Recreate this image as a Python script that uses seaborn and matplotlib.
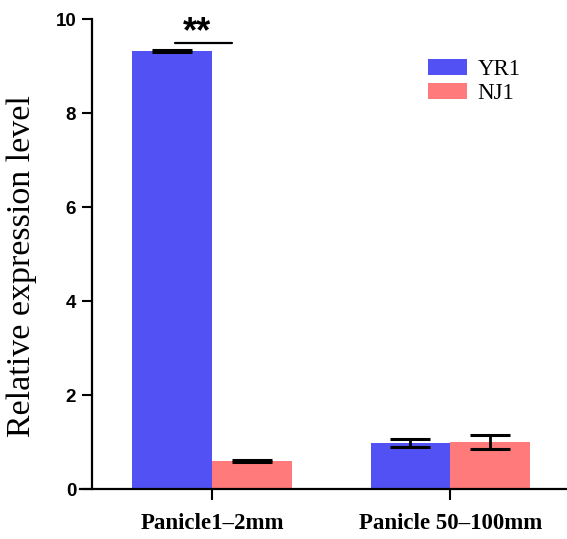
import matplotlib
matplotlib.use("Agg")
import matplotlib.pyplot as plt
import seaborn as sns
import pandas as pd
import numpy as np

# Data
stages = ["Panicle1\u20132mm", "Panicle 50\u2013100mm"]
lines = ["YR1", "NJ1"]
yr1_mean = [9.32, 0.97]
yr1_err = [0.02, 0.085]
nj1_mean = [0.60, 1.00]
nj1_err = [0.025, 0.15]
yticks = [0, 2, 4, 6, 8, 10]

df = pd.DataFrame({
    "stage": stages * 2,
    "line": [lines[0]] * 2 + [lines[1]] * 2,
    "value": yr1_mean + nj1_mean,
    "err": yr1_err + nj1_err,
})

sns.set_theme(style="white")
plt.rcParams["font.family"] = ["Liberation Serif", "DejaVu Serif"]
plt.rcParams["text.color"] = "black"
plt.rcParams["axes.labelcolor"] = "black"
plt.rcParams["xtick.color"] = "black"
plt.rcParams["ytick.color"] = "black"

W, H = 567, 539
fig = plt.figure(figsize=(W / 100, H / 100), dpi=100)
ax = fig.add_axes([80 / W, (H - 489) / H, (567 - 80) / W, 470 / H])

palette = {"YR1": "#5252F4", "NJ1": "#FF7B7B"}
sns.barplot(data=df, x="stage", y="value", hue="line", order=stages,
            hue_order=lines, palette=palette, width=0.67, errorbar=None,
            saturation=1, ax=ax, linewidth=0)

# error bars at the bar centres found from the drawn patches
for container, ln in zip(ax.containers, lines):
    sub = df[df["line"] == ln].set_index("stage").loc[stages]
    xs = [p.get_x() + p.get_width() / 2 for p in container.patches]
    ax.errorbar(xs, sub["value"].values, yerr=sub["err"].values, fmt="none",
                ecolor="black", elinewidth=2, capsize=14.5, capthick=2.2,
                zorder=5)

for s in ["top", "right"]:
    ax.spines[s].set_visible(False)
for s in ["left", "bottom"]:
    ax.spines[s].set_linewidth(1.6)
    ax.spines[s].set_color("black")
ax.spines["left"].set_position(("data", -0.504))

ax.set_xlim(-0.555, 1.49)
ax.set_ylim(0, 10)
ax.set_yticks(yticks)
ax.set_yticklabels([str(t) for t in yticks], fontfamily="Liberation Sans",
                   fontweight="bold", fontsize=13.5, color="black")
ax.set_xticks(range(len(stages)))
ax.set_xticklabels(stages, fontfamily="Liberation Serif", fontweight="bold",
                   fontsize=16.5, color="black")
ax.set_xlabel("")
ax.set_ylabel("Relative expression level", fontsize=24.5,
              fontfamily="Liberation Serif", color="black")
ax.yaxis.set_label_coords(-0.088, 0.474)

ax.tick_params(axis="y", direction="out", length=7.5, width=1.5, pad=4,
               left=True, colors="black")
ax.tick_params(axis="x", direction="out", length=8, width=1.5, pad=9,
               bottom=True, colors="black")

# significance marker
ax.plot([-0.155, 0.084], [9.49, 9.49], color="black", lw=1.6)
ax.text(-0.063, 9.70, "**", ha="center", va="center", fontsize=26,
        fontweight="bold", fontfamily="Liberation Sans", color="black")

leg = ax.legend(loc="upper left", bbox_to_anchor=(0.715, 0.915),
                frameon=False, fontsize=16.5, handlelength=1.7,
                handleheight=0.7, handletextpad=0.45, labelspacing=0.15,
                borderpad=0, borderaxespad=0)
for t in leg.get_texts():
    t.set_fontfamily("Liberation Serif")
    t.set_color("black")

fig.savefig("out.png", dpi=100)
